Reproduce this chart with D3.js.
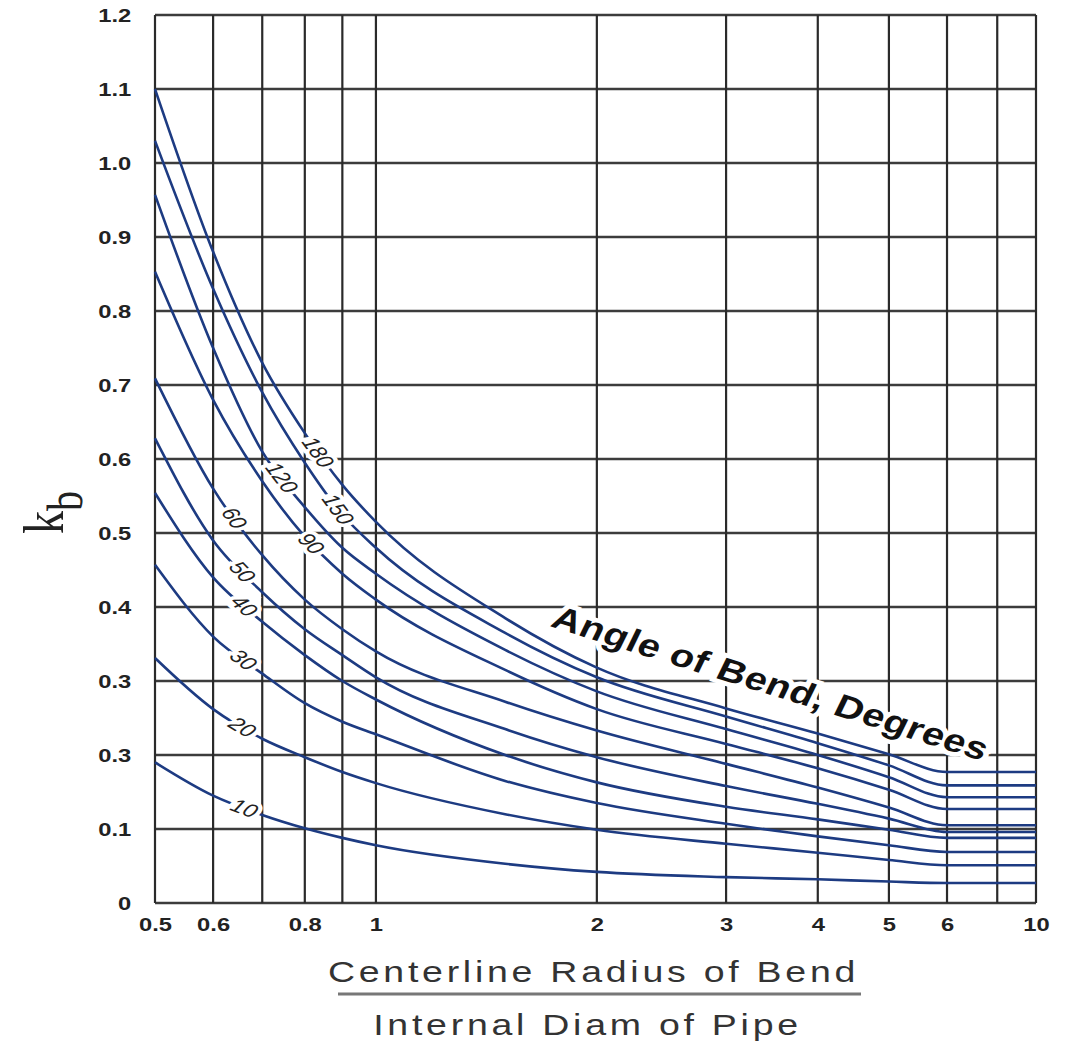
<!DOCTYPE html>
<html>
<head>
<meta charset="utf-8">
<script src="https://cdn.jsdelivr.net/npm/d3@7"></script>
<style>
  body { margin: 0; background: #fff; }
  svg { display: block; font-family: "Liberation Sans", Arial, sans-serif; }
</style>
</head>
<body>
<svg id="chart" width="1074" height="1041"></svg>
<script>
const ratios = [0.5, 0.6, 0.7, 0.8, 0.9, 1, 1.5, 2, 3, 4, 5, 6, 10];

// bend angle (degrees) of each curve
const bendAngles = [180, 150, 120, 90, 60, 50, 40, 30, 20, 10];

// kb values for every angle, same order as ratios
const kb180 = [1.10, 0.88, 0.73, 0.635, 0.565, 0.515, 0.385, 0.318, 0.263, 0.229, 0.201, 0.177, 0.177];
const kb150 = [1.03, 0.83, 0.69, 0.595, 0.525, 0.48, 0.365, 0.305, 0.252, 0.216, 0.186, 0.159, 0.159];
const kb120 = [0.957, 0.75, 0.61, 0.535, 0.48, 0.445, 0.342, 0.286, 0.235, 0.2, 0.17, 0.143, 0.143];
const kb90  = [0.853, 0.68, 0.57, 0.495, 0.445, 0.41, 0.315, 0.262, 0.215, 0.182, 0.153, 0.127, 0.127];
const kb60  = [0.709, 0.56, 0.47, 0.41, 0.37, 0.34, 0.272, 0.233, 0.188, 0.156, 0.129, 0.105, 0.105];
const kb50  = [0.628, 0.49, 0.42, 0.37, 0.335, 0.305, 0.235, 0.197, 0.158, 0.134, 0.114, 0.096, 0.096];
const kb40  = [0.554, 0.44, 0.38, 0.335, 0.30, 0.275, 0.2, 0.163, 0.13, 0.113, 0.099, 0.088, 0.088];
const kb30  = [0.457, 0.36, 0.31, 0.27, 0.245, 0.228, 0.165, 0.135, 0.107, 0.09, 0.078, 0.069, 0.069];
const kb20  = [0.331, 0.262, 0.222, 0.197, 0.177, 0.162, 0.12, 0.099, 0.08, 0.068, 0.058, 0.051, 0.051];
const kb10  = [0.19, 0.145, 0.119, 0.101, 0.088, 0.078, 0.053, 0.042, 0.035, 0.032, 0.029, 0.027, 0.027];
const kbSeries = [kb180, kb150, kb120, kb90, kb60, kb50, kb40, kb30, kb20, kb10];

// where along each curve its angle label sits (r/D)
const labelAt = [0.835, 0.889, 0.745, 0.817, 0.642, 0.658, 0.662, 0.66, 0.658, 0.662];

// grid and ticks
const xGrid = [0.5, 0.6, 0.7, 0.8, 0.9, 1, 2, 3, 4, 5, 6, 7, 10];
const xTickVals = [0.5, 0.6, 0.8, 1, 2, 3, 4, 5, 6, 10];
const xTickLabels = ["0.5", "0.6", "0.8", "1", "2", "3", "4", "5", "6", "10"];
const yTickVals = [0, 0.1, 0.2, 0.3, 0.4, 0.5, 0.6, 0.7, 0.8, 0.9, 1.0, 1.1, 1.2];
const yTickLabels = ["0", "0.1", "0.3", "0.3", "0.4", "0.5", "0.6", "0.7", "0.8", "0.9", "1.0", "1.1", "1.2"];

const annotation = { text: "Angle of Bend, Degrees", at: 3.4, kb: 0.283 };

const margin = { top: 15, right: 38, bottom: 138, left: 155 };
const width = 1074 - margin.left - margin.right;
const height = 1041 - margin.top - margin.bottom;
const SX = 1.25; // the original lettering is drawn wide

const x = d3.scaleLog()
  .domain([0.5, 6, 7, 10])
  .range([0, width * 0.899, width * 0.956, width]);
const y = d3.scaleLinear().domain([0, 1.2]).range([height, 0]);

const svg = d3.select("#chart");
const g = svg.append("g").attr("transform", "translate(" + margin.left + "," + margin.top + ")");

// grid
const grid = g.append("g");
grid.selectAll("line.h")
  .data(yTickVals)
  .enter().append("line")
  .attr("class", "h")
  .attr("x1", 0).attr("x2", width)
  .attr("y1", d => y(d)).attr("y2", d => y(d))
  .attr("stroke", "#3c3c3c").attr("stroke-width", 2.6);
grid.selectAll("line.v")
  .data(xGrid)
  .enter().append("line")
  .attr("class", "v")
  .attr("x1", d => x(d)).attr("x2", d => x(d))
  .attr("y1", 0).attr("y2", height)
  .attr("stroke", "#2a2a2a").attr("stroke-width", 2.2);

// axes (labels only)
const xAxis = d3.axisBottom(x).tickValues(xTickVals).tickSize(0).tickPadding(15)
  .tickFormat((d, i) => xTickLabels[i]);
const yAxis = d3.axisLeft(y).tickValues(yTickVals).tickSize(0).tickPadding(19)
  .tickFormat((d, i) => yTickLabels[i]);

g.append("g").attr("transform", "translate(0," + height + ")").call(xAxis)
  .call(a => a.select(".domain").remove());
g.append("g").call(yAxis)
  .call(a => a.select(".domain").remove());
g.selectAll(".tick text")
  .attr("font-family", "'Liberation Sans', Arial, sans-serif")
  .attr("font-size", 19)
  .attr("font-weight", "bold")
  .attr("fill", "#222")
  .attr("transform", "scale(" + SX + ",1)");

// annotation above the curves
const ax = x(annotation.at), ay = y(annotation.kb);
const rot0 = Math.atan(SX * Math.tan(17.3 * Math.PI / 180)) * 180 / Math.PI;
g.append("text")
  .attr("transform", "translate(" + ax + "," + ay + ") scale(" + SX + ",1) rotate(" + rot0 + ")")
  .attr("text-anchor", "middle")
  .attr("font-size", 32)
  .attr("font-weight", "bold")
  .attr("letter-spacing", 0.5)
  .attr("fill", "#111")
  .attr("stroke", "#fff").attr("stroke-width", 9).attr("paint-order", "stroke")
  .text(annotation.text);

// curves
const line = d3.line()
  .x(d => x(d[0]))
  .y(d => y(d[1]))
  .curve(d3.curveMonotoneX);

g.append("g").selectAll("path")
  .data(kbSeries)
  .enter().append("path")
  .attr("d", v => line(ratios.map((r, i) => [r, v[i]])))
  .attr("fill", "none")
  .attr("stroke", "#1d3b82")
  .attr("stroke-width", 2.6);

// angle labels on the curves
const labels = g.append("g");
kbSeries.forEach((v, k) => {
  const lx = labelAt[k];
  let j = 0;
  while (j < ratios.length - 2 && ratios[j + 1] <= lx) j++;
  const x0 = x(ratios[j]), x1 = x(ratios[j + 1]);
  const y0 = y(v[j]), y1 = y(v[j + 1]);
  const px = x(lx);
  const py = y0 + (px - x0) / (x1 - x0) * (y1 - y0);
  const rot = Math.atan2(SX * (y1 - y0), x1 - x0) * 180 / Math.PI;
  labels.append("text")
    .attr("transform", "translate(" + px + "," + py + ") scale(" + SX + ",1) rotate(" + rot + ")")
    .attr("text-anchor", "middle")
    .attr("dy", "0.36em")
    .attr("font-size", 19)
    .attr("font-style", "italic")
    .attr("fill", "#222")
    .attr("stroke", "#fff").attr("stroke-width", 7).attr("paint-order", "stroke")
    .text(bendAngles[k]);
});

// y axis title: k with subscript b
const kb = svg.append("text")
  .attr("transform", "translate(63,534) scale(" + SX + ",1) rotate(-90)")
  .attr("font-family", "'Liberation Serif', 'Times New Roman', serif")
  .attr("fill", "#222");
kb.append("tspan").attr("font-size", 46).text("k");
kb.append("tspan").attr("font-size", 40).attr("dy", 15).text("b");

// x axis title as a fraction
const cx = margin.left + width / 2 - 2;
svg.append("text")
  .attr("transform", "translate(" + cx + ",982) scale(" + SX + ",1)")
  .attr("text-anchor", "middle")
  .attr("font-size", 30)
  .attr("letter-spacing", 3)
  .attr("fill", "#333")
  .text("Centerline Radius of Bend");
svg.append("line")
  .attr("x1", 338).attr("x2", 861)
  .attr("y1", 994).attr("y2", 994)
  .attr("stroke", "#777").attr("stroke-width", 3);
svg.append("text")
  .attr("transform", "translate(" + (cx - 6) + ",1035) scale(" + SX + ",1)")
  .attr("text-anchor", "middle")
  .attr("font-size", 30)
  .attr("letter-spacing", 3)
  .attr("fill", "#333")
  .text("Internal Diam of Pipe");
</script>
</body>
</html>
